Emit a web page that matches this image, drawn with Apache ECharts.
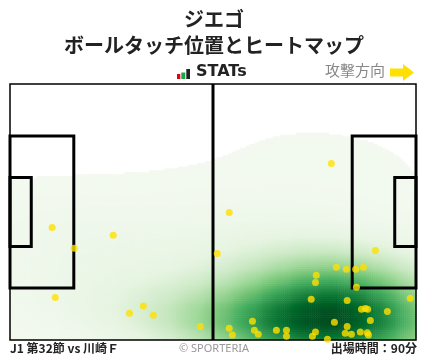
<!DOCTYPE html>
<html><head><meta charset="utf-8">
<script src="https://cdn.jsdelivr.net/npm/echarts@6/dist/echarts.min.js"></script>
<style>html,body{margin:0;padding:0;background:#fff}#c{width:428px;height:359px}</style>
</head><body><div id="c"></div>
<script>
// ---- data (pitch metres, x: 0 = own goal, y: 0 = bottom touchline) ----
const playerName = 'ジエゴ';
const chartTitle = 'ボールタッチ位置とヒートマップ';
const matchLabel = 'J1 第32節 vs 川崎Ｆ';
const minutesLabel = '出場時間：90分';
const touchX = [10.9, 26.7, 16.6, 11.7, 30.9, 34.5, 37.1, 49.2, 83.1, 56.7, 53.6, 94.5,
  84.4, 87.0, 89.4, 91.4, 79.2, 79.0, 89.6, 77.9, 87.2, 103.5, 90.9, 91.9, 92.5, 97.6,
  93.2, 62.7, 83.9, 87.2, 56.7, 63.2, 68.9, 71.5, 57.5, 64.2, 71.5, 79.0, 78.2, 82.1,
  86.7, 88.3, 90.6, 92.4, 92.7];
const touchY = [29.9, 27.8, 24.4, 11.3, 7.1, 9.0, 6.6, 3.6, 46.9, 33.9, 23.0, 23.8,
  19.3, 18.8, 18.8, 19.3, 17.2, 15.3, 14.0, 10.8, 10.5, 11.1, 8.2, 8.4, 8.2, 7.6,
  5.2, 5.0, 4.7, 3.6, 3.1, 2.6, 2.6, 2.6, 1.3, 1.5, 1.0, 2.1, 1.0, 0.2,
  1.8, 1.5, 2.1, 1.9, 1.3];

// ---- pitch geometry ----
const L = 105, W = 68;
const pitchShapes = [
  // [x0, y0, x1, y1, width]
  [0, 0, L, W, 1.5],
  [0, W/2 - 20.16, 16.5, W/2 + 20.16, 3],
  [0, W/2 - 9.16, 5.5, W/2 + 9.16, 3],
  [L - 16.5, W/2 - 20.16, L, W/2 + 20.16, 3],
  [L - 5.5, W/2 - 9.16, L, W/2 + 9.16, 3],
  [L/2, 0, L/2, W, 3]
];

// ---- density estimate built from the touches ----
const n = touchX.length;
const mx = touchX.reduce((a,b)=>a+b,0)/n, my = touchY.reduce((a,b)=>a+b,0)/n;
let sxx=0, syy=0, sxy=0;
for (let i=0;i<n;i++){const dx=touchX[i]-mx, dy=touchY[i]-my; sxx+=dx*dx; syy+=dy*dy; sxy+=dx*dy;}
sxx/=(n-1); syy/=(n-1); sxy/=(n-1);
const bwScale = 1.6;
const f2 = Math.pow(n, -1/3) * bwScale * bwScale;
const a = sxx*f2, d = syy*f2, b = sxy*f2;
const det = a*d - b*b;
const ia = d/det, id = a/det, ib = -b/det;
const NX = 210, NY = 136;
const cells = [];
let vmax = 0;
for (let i=0;i<NX;i++){
  for (let j=0;j<NY;j++){
    const x = (i+0.5)*L/NX, y = (j+0.5)*W/NY;
    let s = 0;
    for (let k=0;k<n;k++){
      const dx = x-touchX[k], dy = y-touchY[k];
      s += Math.exp(-0.5*(ia*dx*dx + 2*ib*dx*dy + id*dy*dy));
    }
    cells.push([i,j,s]);
    if (s>vmax) vmax=s;
  }
}
const thr = 0.03;
const gamma = 1.6;
const heat = cells.map(c=>[c[0],c[1],c[2]/vmax]).filter(c=>c[2]>=thr).map(c=>[c[0],c[1],Math.pow(c[2],gamma)]);
const xCats = Array.from({length:NX},(_,i)=>i);
const yCats = Array.from({length:NY},(_,j)=>j);

const chart = echarts.init(document.getElementById('c'), null, {renderer:'canvas'});
const G = {left:10, top:84, width:406, height:256};
chart.setOption({
  animation:false,
  backgroundColor:'#fff',
  grid: G,
  xAxis:[{type:'value',min:0,max:L,show:false},{type:'category',data:xCats,show:false,boundaryGap:true,position:'top'}],
  yAxis:[{type:'value',min:0,max:W,show:false},{type:'category',data:yCats,show:false,boundaryGap:true,position:'right'}],
  visualMap:{show:false,type:'continuous',seriesIndex:0,dimension:2,min:0,max:1,
    inRange:{color:['#f3f9f0','#e6f4e1','#c9e8c2','#a1d99b','#74c476','#41ab5d','#238b45','#006d2c','#004d20']}},
  series:[
    {type:'heatmap',xAxisIndex:1,yAxisIndex:1,data:heat,progressive:0,silent:true,z:1},
    {type:'custom',xAxisIndex:0,yAxisIndex:0,data:pitchShapes,silent:true,z:3,
      renderItem:(params,api)=>{
        const p0=api.coord([api.value(0),api.value(1)]), p1=api.coord([api.value(2),api.value(3)]);
        const lw=api.value(4);
        if (api.value(0)===api.value(2)) {
          return {type:'line',shape:{x1:p0[0],y1:p0[1],x2:p1[0],y2:p1[1]},style:{stroke:'#000',lineWidth:lw}};
        }
        return {type:'rect',shape:{x:Math.min(p0[0],p1[0]),y:Math.min(p0[1],p1[1]),width:Math.abs(p1[0]-p0[0]),height:Math.abs(p1[1]-p0[1])},
          style:{fill:'none',stroke:'#000',lineWidth:lw}};
      }},
    {type:'scatter',xAxisIndex:0,yAxisIndex:0,data:touchX.map((x,i)=>[x,touchY[i]]),symbolSize:7,
      itemStyle:{color:'#FFE000'},z:5,silent:true}
  ],
  graphic:[
    {type:'text',left:'center',top:9,style:{text:playerName,font:'bold 20px "Noto Sans CJK JP"',fill:'#222'}},
    {type:'text',left:'center',top:35,style:{text:chartTitle,font:'bold 20px "Noto Sans CJK JP"',fill:'#222'}},
    {type:'rect',shape:{x:177,y:74,width:3.3,height:5},style:{fill:'#e60012'}},
    {type:'rect',shape:{x:181.3,y:72.5,width:4,height:6.5},style:{fill:'#1aa64a'}},
    {type:'rect',shape:{x:186.3,y:69,width:3.7,height:10},style:{fill:'#222'}},
    {type:'text',x:196,y:64,style:{text:'STATs',font:'bold 16px "DejaVu Sans"',fill:'#222'}},
    {type:'text',x:325,y:63,style:{text:'攻撃方向',font:'15px "Noto Sans CJK JP"',fill:'#888'}},
    {type:'polygon',shape:{points:[[390,68.5],[403,68.5],[403,64],[414,72.5],[403,81],[403,76.5],[390,76.5]]},style:{fill:'#FFE000'}},
    {type:'text',x:10,y:342,style:{text:matchLabel,font:'bold 12px "Noto Sans CJK JP"',fill:'#222'}},
    {type:'text',left:'center',top:343,style:{text:'© SPORTERIA',font:'11px "Noto Sans"',fill:'#999'}},
    {type:'text',right:11,top:342,style:{text:minutesLabel,font:'bold 12px "Noto Sans CJK JP"',fill:'#222'}}
  ]
});
</script></body></html>
